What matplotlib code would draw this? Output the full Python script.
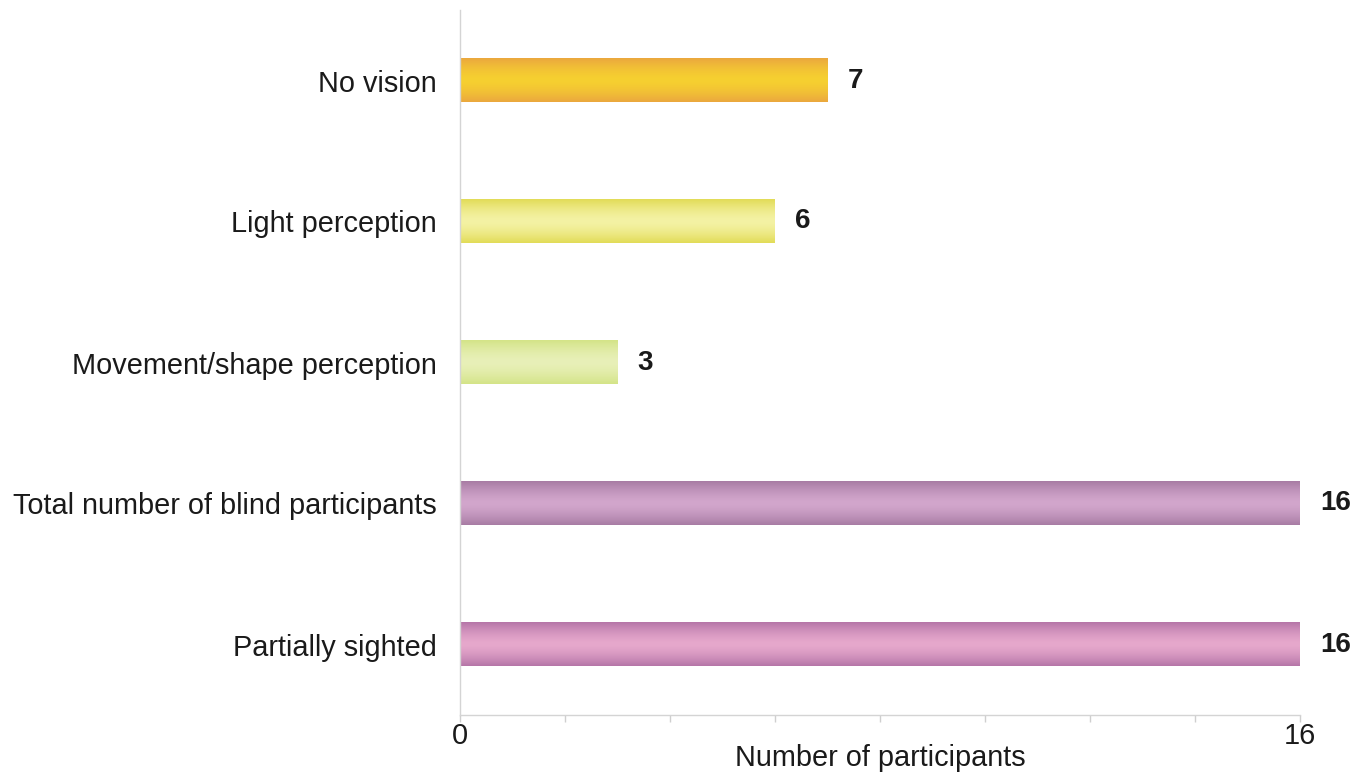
import numpy as np
import matplotlib
matplotlib.use("Agg")
import matplotlib.pyplot as plt
from matplotlib.colors import LinearSegmentedColormap

categories = ["No vision", "Light perception", "Movement/shape perception",
              "Total number of blind participants", "Partially sighted"]
values = [7, 6, 3, 16, 16]
edge_colors = ["#EBA83E", "#E2DC58", "#D4E488", "#A87CA4", "#B676A8"]
center_colors = ["#F6D030", "#F4F2A4", "#E8F0B8", "#D2A6CC", "#E6A8CC"]
xmax = 16

plt.rcParams['font.family'] = ['Liberation Sans', 'DejaVu Sans']

fig = plt.figure(figsize=(13.65, 7.78), dpi=100)
ax = fig.add_axes([460/1365, 63/778, 840/1365, 705/778])

ypos = np.arange(len(categories))
bar_h = 0.31
bars = ax.barh(ypos, values, height=bar_h, color="none", edgecolor="none")

prof = np.abs(np.linspace(-1, 1, 64))[:, None]
for rect, ec, cc in zip(bars, edge_colors, center_colors):
    cmap = LinearSegmentedColormap.from_list("g", [cc, ec])
    x0, y0 = rect.get_x(), rect.get_y()
    w, h = rect.get_width(), rect.get_height()
    ax.imshow(prof ** 1.5, cmap=cmap, vmin=0, vmax=1, aspect="auto",
              extent=(x0, x0 + w, y0 + h, y0), interpolation="bilinear", zorder=2)

for y, v in zip(ypos, values):
    ax.annotate(str(v), (v, y), xytext=(20, 0), textcoords="offset pixels",
                ha="left", va="center", fontsize=20, fontweight="bold", color="#1a1a1a",
                annotation_clip=False)

ax.set_xlim(0, xmax)
ax.set_ylim(len(categories) - 0.5, -0.5)
ax.set_yticks(ypos)
ax.set_yticklabels(categories, fontsize=20.8, color="#1a1a1a")
ax.tick_params(axis="y", length=0, pad=16.5)
ticks = np.arange(0, xmax + 1, 2)
ax.set_xticks(ticks)
ax.set_xticklabels(["0" if t == 0 else ("16" if t == xmax else "") for t in ticks],
                   fontsize=20.8, color="#1a1a1a")
ax.tick_params(axis="x", length=5, color="#cfcfcf", width=1, pad=0)
ax.set_xlabel("Number of participants", fontsize=20.8, color="#1a1a1a", va="center")
ax.xaxis.set_label_coords(0.5, -43 / 705)

for s in ["top", "right"]:
    ax.spines[s].set_visible(False)
for s in ["left", "bottom"]:
    ax.spines[s].set_color("#d4d4d4")
    ax.spines[s].set_linewidth(1)

fig.savefig("out.png", dpi=100)
